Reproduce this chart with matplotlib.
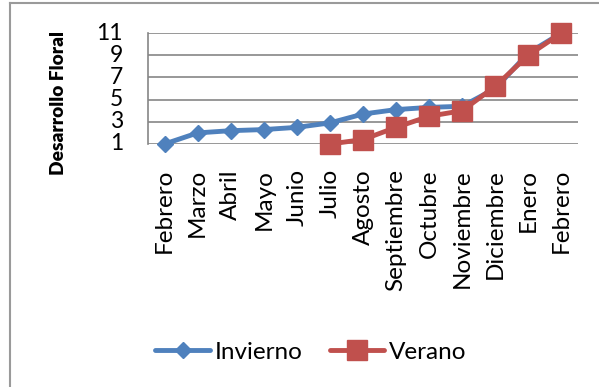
import matplotlib
matplotlib.use("Agg")
import matplotlib.pyplot as plt
from matplotlib.lines import Line2D

plt.rcParams['font.family'] = ['Lato', 'DejaVu Sans']

meses = ["Febrero", "Marzo", "Abril", "Mayo", "Junio", "Julio", "Agosto",
         "Septiembre", "Octubre", "Noviembre", "Diciembre", "Enero", "Febrero"]
invierno = [1.0, 2.0, 2.2, 2.3, 2.5, 2.9, 3.7, 4.1, 4.3, 4.4, 6.0, 9.2, 11.0]
verano = [None, None, None, None, None, 1.0, 1.4, 2.5, 3.5, 4.0, 6.2, 9.0, 11.0]
y_ticks = [1, 3, 5, 7, 9, 11]

azul = "#4F81BD"
rojo = "#C0504D"
gris = "#868686"

fig = plt.figure(figsize=(5.99, 3.87), dpi=100)
ax = fig.add_axes([148 / 599, 1 - 144 / 387, 430 / 599, 111 / 387])

x = list(range(len(meses)))
ax.plot(x, invierno, color=azul, lw=3.5, marker="D", ms=8.5,
        mfc=azul, mec=azul, clip_on=False, zorder=3, label="Invierno")
xv = [i for i, v in zip(x, verano) if v is not None]
yv = [v for v in verano if v is not None]
ax.plot(xv, yv, color=rojo, lw=3.5, marker="s", ms=14,
        mfc=rojo, mec=rojo, clip_on=False, zorder=4, label="Verano")

ax.set_xlim(-0.5, len(meses) - 0.5)
ax.set_ylim(1, 11)
ax.set_yticks(y_ticks)
ax.set_xticks(x)
ax.set_xticklabels(meses, rotation=90, fontsize=17.5)
ax.tick_params(axis="x", length=0, pad=18)
ax.tick_params(axis="y", length=0, pad=18, labelsize=16.5)
for lab in ax.get_yticklabels():
    lab.set_verticalalignment("center")

ax.grid(axis="y", color=gris, lw=1.2)
ax.set_axisbelow(True)
for s in ["top", "right", "bottom"]:
    ax.spines[s].set_visible(False)
ax.spines["left"].set_color(gris)
ax.spines["left"].set_linewidth(1.2)

fig.text(59 / 599, 1 - 103 / 387, "Desarrollo Floral", rotation=90,
         fontsize=13.8, fontweight="heavy", ha="center", va="center")

handles = [
    Line2D([], [], color=azul, lw=3.5, marker="D", ms=8.5, mfc=azul, mec=azul,
           solid_capstyle="round"),
    Line2D([], [], color=rojo, lw=3.5, marker="s", ms=14, mfc=rojo, mec=rojo,
           solid_capstyle="round"),
]
fig.legend(handles, ["Invierno", "Verano"], loc="center", ncol=2,
           bbox_to_anchor=(311 / 599, 1 - 352 / 387), frameon=False,
           fontsize=17.5, handlelength=2.26, handletextpad=0.2,
           columnspacing=1.1)

# chart frame (left and top edges)
fig.add_artist(Line2D([10 / 599, 10 / 599], [0, 1 - 3 / 387],
                      transform=fig.transFigure, color="#9a9a9a", lw=1.5))
fig.add_artist(Line2D([10 / 599, 1], [1 - 3 / 387, 1 - 3 / 387],
                      transform=fig.transFigure, color="#9a9a9a", lw=1.5))

fig.savefig("out.png", dpi=100)
